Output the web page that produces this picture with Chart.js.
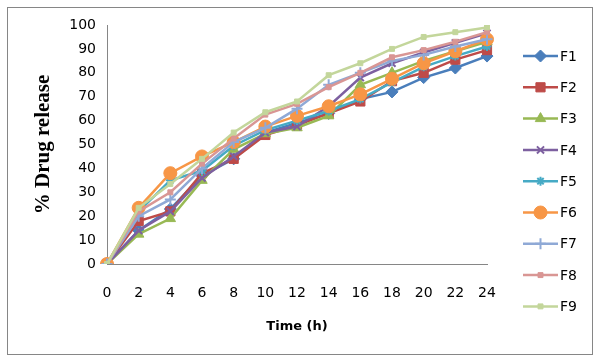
<!DOCTYPE html>
<html>
<head>
<meta charset="utf-8">
<script src="https://cdn.jsdelivr.net/npm/chart.js@4.4.0/dist/chart.umd.min.js"></script>
<style>
  html, body { margin: 0; padding: 0; background: #fff; }
  #wrap { width: 600px; height: 361px; }
</style>
</head>
<body>
<div id="wrap"><canvas id="chart" width="600" height="361"></canvas></div>
<script>
const times = ["0", "2", "4", "6", "8", "10", "12", "14", "16", "18", "20", "22", "24"];
const names = ["F1", "F2", "F3", "F4", "F5", "F6", "F7", "F8", "F9"];

const f1 = [0, 14, 23, 37, 44, 55, 59, 63, 69, 72, 78, 82, 87];
const f2 = [0, 18, 22, 38, 44, 54, 58, 63, 68, 76.5, 80, 85.5, 89.5];
const f3 = [0, 12.5, 19, 35, 48, 54.5, 57, 62, 75, 80, 85, 89, 93];
const f4 = [0, 14, 22, 36, 45, 55, 57.5, 66, 78, 84, 88.5, 92.5, 96.5];
const f5 = [0, 22, 35, 39, 49.5, 56, 60, 64, 69, 76, 82.5, 87, 91];
const f6 = [0, 23.5, 38, 45, 51, 57.5, 62, 66, 71, 77.5, 84, 89, 94];
const f7 = [0, 20, 27, 40, 51, 57, 65, 75, 80, 85, 87.5, 91, 94];
const f8 = [0, 22, 30, 42, 52.5, 62.5, 67, 74, 80, 86.5, 89.5, 93, 97];
const f9 = [0, 23.5, 33.5, 44, 55, 63.5, 68, 79, 84, 90, 95, 97, 99];

const yTicks = [0, 10, 20, 30, 40, 50, 60, 70, 80, 90, 100];

const series = [f1, f2, f3, f4, f5, f6, f7, f8, f9];
const colors = ["#4a7ebb", "#be4b48", "#98b954", "#7d60a0", "#46aac5", "#f79646", "#8fa9d6", "#d99694", "#c3d69b"];
const markers = ["rectRot", "rect", "triangle", "crossRot", "star", "circle", "cross", "rect", "rect"];
const sizes = [6, 6.5, 6, 5, 4.5, 6.5, 5.5, 3.5, 3.5];

const datasets = series.map((vals, i) => ({
  label: names[i],
  data: vals,
  borderColor: colors[i],
  backgroundColor: colors[i],
  borderWidth: 2.5,
  pointStyle: markers[i],
  pointRadius: sizes[i],
  pointBorderWidth: (markers[i] === "crossRot" || markers[i] === "star" || markers[i] === "cross") ? 2 : 1,
  pointBackgroundColor: colors[i],
  pointBorderColor: colors[i],
  tension: 0,
  order: 9 - i
}));

// frame round the whole chart + legend on the right
const extras = {
  id: "extras",
  beforeDraw(chart) {
    const ctx = chart.ctx;
    ctx.save();
    ctx.fillStyle = "#fff";
    ctx.fillRect(0, 0, chart.width, chart.height);
    ctx.strokeStyle = "#868686";
    ctx.lineWidth = 1;
    ctx.strokeRect(7.5, 7.5, 585, 347);
    ctx.restore();
  },
  afterDraw(chart) {
    const ctx = chart.ctx;
    ctx.save();
    chart.data.datasets.forEach((ds, i) => {
      const y = 56 + i * 31.3;
      ctx.strokeStyle = ds.borderColor;
      ctx.lineWidth = 2.5;
      ctx.beginPath();
      ctx.moveTo(523, y);
      ctx.lineTo(558, y);
      ctx.stroke();
      ctx.fillStyle = ds.backgroundColor;
      ctx.lineWidth = ds.pointBorderWidth;
      Chart.helpers.drawPoint(ctx, { pointStyle: ds.pointStyle, radius: ds.pointRadius, rotation: 0, borderWidth: ds.pointBorderWidth }, 540.5, y);
      ctx.fillStyle = "#000";
      ctx.font = "14px 'DejaVu Sans'";
      ctx.textBaseline = "middle";
      ctx.fillText(ds.label, 560, y + 1);
    });
    ctx.restore();
  }
};

new Chart(document.getElementById("chart"), {
  type: "line",
  data: { labels: times, datasets },
  plugins: [extras],
  options: {
    responsive: false,
    animation: false,
    layout: { padding: { left: 7, right: 113, top: 25, bottom: 17 } },
    plugins: { legend: { display: false }, tooltip: { enabled: false } },
    scales: {
      x: {
        offset: false,
        grid: { display: false, drawTicks: true, tickLength: 5, color: "#868686" },
        border: { color: "#868686", width: 1 },
        ticks: { color: "#000", font: { family: "DejaVu Sans", size: 14 }, padding: 16, maxRotation: 0, autoSkip: false },
        title: { display: true, text: "Time (h)", color: "#000", font: { family: "DejaVu Sans", size: 13, weight: "bold" }, padding: { top: 0, bottom: 10 } },
        afterFit(scale) { scale.height = 80; }
      },
      y: {
        min: 0,
        max: 100,
        afterBuildTicks(scale) { scale.ticks = yTicks.map(v => ({ value: v })); },
        grid: { display: false, drawTicks: true, tickLength: 5, color: "#868686" },
        border: { color: "#868686", width: 1 },
        ticks: { color: "#000", font: { family: "DejaVu Sans", size: 14 }, padding: 6 },
        title: { display: true, text: "% Drug release", color: "#000", font: { family: "Liberation Serif", size: 21, weight: "bold" }, padding: { top: 24, bottom: 0 } },
        afterFit(scale) { scale.width = 100; }
      }
    }
  }
});
</script>
</body>
</html>
